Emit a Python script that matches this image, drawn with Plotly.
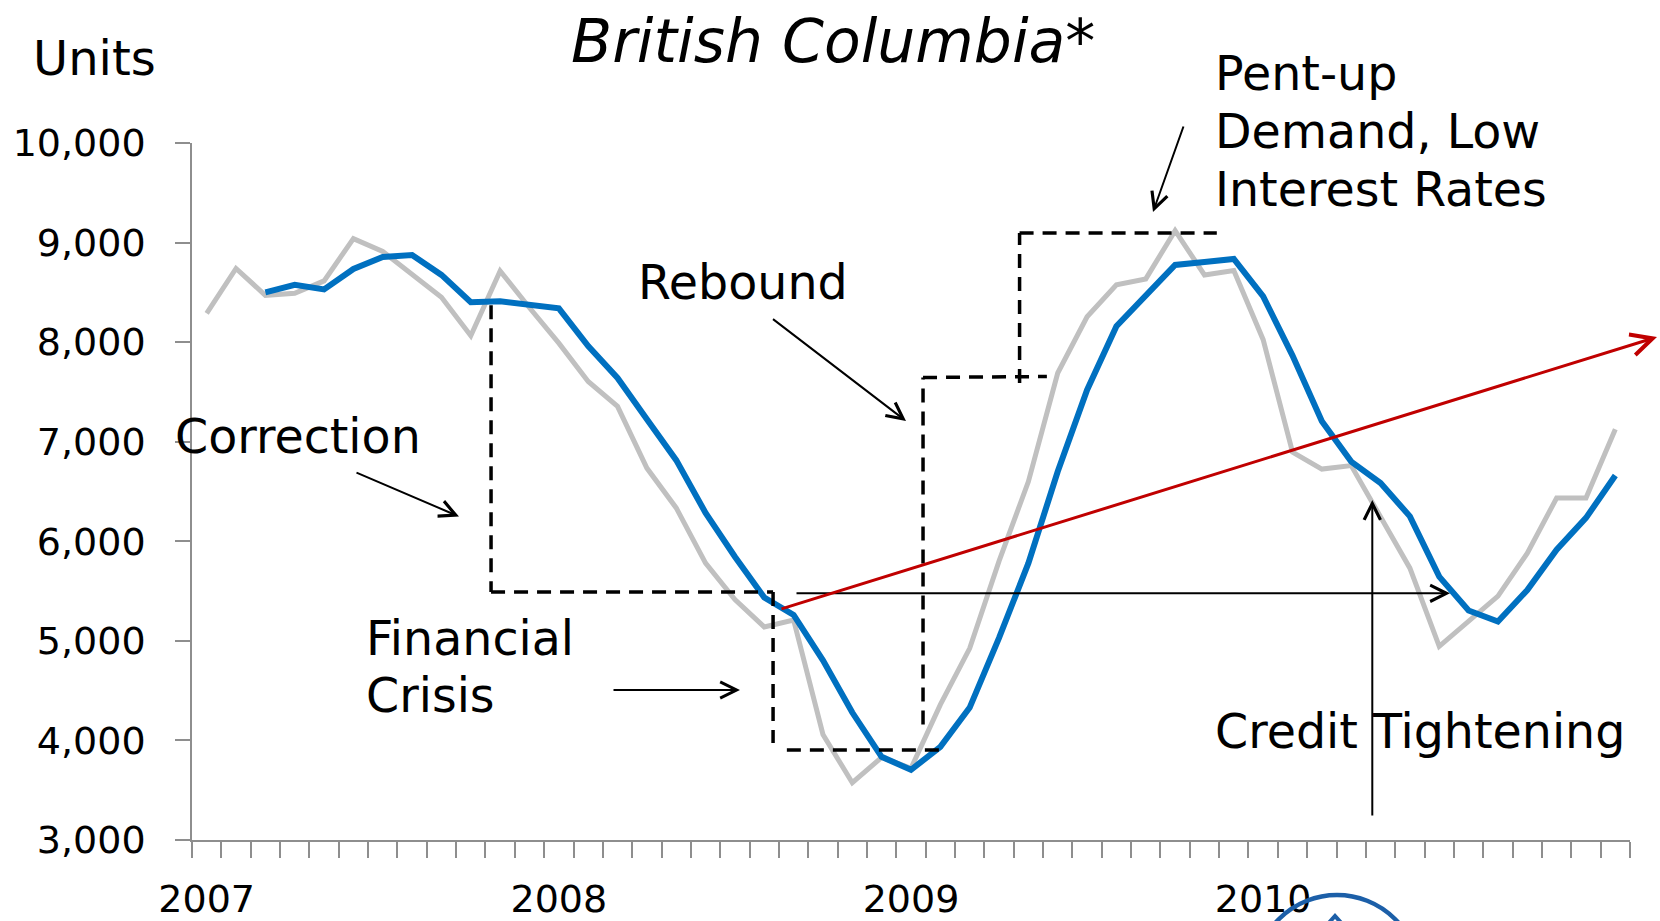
import plotly.graph_objects as go

# ---------------- data ----------------
month_names = ["Jan", "Feb", "Mar", "Apr", "May", "Jun",
               "Jul", "Aug", "Sep", "Oct", "Nov", "Dec"]
months = [f"{m} {y}" for y in range(2007, 2011) for m in month_names] + ["Jan 2011"]
year_labels = ["2007", "2008", "2009", "2010"]

# monthly housing starts (SAAR, units) - grey line
starts_monthly = [
    8290, 8740, 8470, 8490, 8615, 9040, 8910, 8685, 8450, 8065, 8715, 8345,
    7990, 7605, 7355, 6735, 6335, 5780, 5415, 5140, 5210, 4060, 3575, 3830,
    3720, 4360, 4925, 5800, 6600, 7690, 8255, 8575, 8635, 9120, 8675, 8720,
    8025, 6895, 6725, 6760, 6250, 5730, 4945, 5190, 5450, 5880, 6435, 6435,
    7125,
]
# trend (3-month average) - blue line
starts_trend = [
    None, None, 8500, 8575, 8530, 8735, 8855, 8875, 8675, 8400, 8410, 8375,
    8340, 7960, 7640, 7225, 6815, 6285, 5845, 5435, 5260, 4805, 4280, 3835,
    3705, 3935, 4330, 5030, 5780, 6700, 7520, 8160, 8465, 8775, 8805, 8835,
    8460, 7865, 7205, 6800, 6585, 6250, 5645, 5305, 5195, 5510, 5915, 6235,
    6660,
]
y_ticks = [3000, 4000, 5000, 6000, 7000, 8000, 9000, 10000]

# dashed "phase" step outlines: (x index, value) pairs
phase_segments = [
    (9.69, 8370, 9.69, 5490),
    (9.69, 5490, 19.3, 5490),
    (19.3, 5490, 19.3, 3975),
    (19.77, 3905, 25.05, 3905),
    (24.41, 4160, 24.41, 7645),
    (24.41, 7645, 28.63, 7655),
    (27.7, 7590, 27.7, 9095),
    (27.7, 9095, 34.42, 9095),
]

# ---------------- layout geometry ----------------
W, H = 1660, 921
L, R, T, B = 192, 30, 143, 81
PW, PH = W - L - R, H - T - B


def px(x):
    return (x - L) / PW


def py(y):
    return (H - B - y) / PH


ticktext = []
for m in months:
    mon, yr = m.split()
    ticktext.append(yr if (mon == "Jan" and yr in year_labels) else "")

AXIS_GREY = "#8e8e8e"

fig = go.Figure()
fig.add_trace(go.Scatter(x=months, y=starts_monthly, mode="lines",
                         line=dict(color="#C0C0C0", width=5),
                         hoverinfo="skip"))
fig.add_trace(go.Scatter(x=months, y=starts_trend, mode="lines",
                         line=dict(color="#0070C0", width=6),
                         connectgaps=False, hoverinfo="skip"))

shapes = []
for x0, y0, x1, y1 in phase_segments:
    shapes.append(dict(type="line", xref="x", yref="y", x0=x0, y0=y0, x1=x1, y1=y1,
                       line=dict(color="black", width=3.5, dash="14px,9px"),
                       layer="above"))
# partial logo at bottom
shapes.append(dict(type="circle", xref="paper", yref="paper",
                   x0=px(1255), x1=px(1419), y0=py(1059), y1=py(895),
                   line=dict(color="#1c5fa8", width=4.5)))
shapes.append(dict(type="path", xref="paper", yref="paper",
                   path=f"M{px(1326)},{py(926)} L{px(1335)},{py(916)} L{px(1344)},{py(926)}",
                   line=dict(color="#1c5fa8", width=4)))

annotations = []
DY = 2


def text_ann(x, y, text, size=47.5, xanchor="left"):
    annotations.append(dict(x=px(x), y=py(y + DY), xref="paper", yref="paper",
                            text=text, showarrow=False, xanchor=xanchor,
                            yanchor="middle", align="left",
                            font=dict(family="DejaVu Sans", size=size, color="black")))


def arrow_ann(tail, head, color="black", width=2, size=1.6):
    (tx, ty), (hx, hy) = tail, head
    annotations.append(dict(x=px(hx), y=py(hy), xref="paper", yref="paper",
                            ax=tx - hx, ay=ty - hy, axref="pixel", ayref="pixel",
                            text="", showarrow=True, arrowhead=5, arrowsize=size,
                            arrowwidth=width, arrowcolor=color, standoff=0))


text_ann(833, 39, "<i>British Columbia*</i>", size=60, xanchor="center")
text_ann(31, 56, "Units", size=48)
text_ann(173, 435, "Correction")
text_ann(636, 280, "Rebound")
text_ann(364, 636.5, "Financial")
text_ann(364, 693.5, "Crisis")
text_ann(1213, 71, "Pent-up")
text_ann(1213, 129.5, "Demand, Low")
text_ann(1213, 188, "Interest Rates")
text_ann(1213, 729, "Credit Tightening")

arrow_ann((355, 472), (459, 516.5))
arrow_ann((612, 690), (740, 690))
arrow_ann((771.5, 318), (906, 421))
arrow_ann((1184, 125), (1153, 212))
arrow_ann((1372.3, 817), (1372.3, 500))
arrow_ann((795, 593.3), (1450, 593.3))
arrow_ann((780, 609.3), (1657, 337), color="#C00000", width=3, size=1.4)

fig.update_layout(
    width=W, height=H,
    margin=dict(l=L, r=R, t=T, b=B, pad=0, autoexpand=False),
    plot_bgcolor="white", paper_bgcolor="white",
    showlegend=False,
    font=dict(family="DejaVu Sans", color="black"),
    shapes=shapes, annotations=annotations,
)
fig.update_xaxes(type="category", categoryorder="array", categoryarray=months,
                 range=[-0.5, len(months) - 0.5], automargin=False,
                 tickmode="array", tickvals=months, ticktext=ticktext,
                 tickson="boundaries", ticks="outside", ticklen=16, tickwidth=1.5,
                 tickcolor=AXIS_GREY, showline=True, linecolor=AXIS_GREY, linewidth=2,
                 showgrid=False, zeroline=False, tickangle=0,
                 tickfont=dict(family="DejaVu Sans", size=38, color="black"),
                 ticklabelstandoff=24, fixedrange=True)
fig.update_yaxes(range=[3000, 10000], tickmode="array", tickvals=y_ticks,
                 automargin=False,
                 tickformat=",d", ticks="outside", ticklen=15, tickwidth=1.5,
                 tickcolor=AXIS_GREY, showline=True, linecolor=AXIS_GREY, linewidth=1.5,
                 showgrid=False, zeroline=False,
                 tickfont=dict(family="DejaVu Sans", size=38, color="black"),
                 ticklabelstandoff=22, fixedrange=True)

fig.write_html(
    "out.html",
    config={"displayModeBar": False},
    post_script="document.body.style.margin='0';document.body.style.overflow='hidden';",
)
